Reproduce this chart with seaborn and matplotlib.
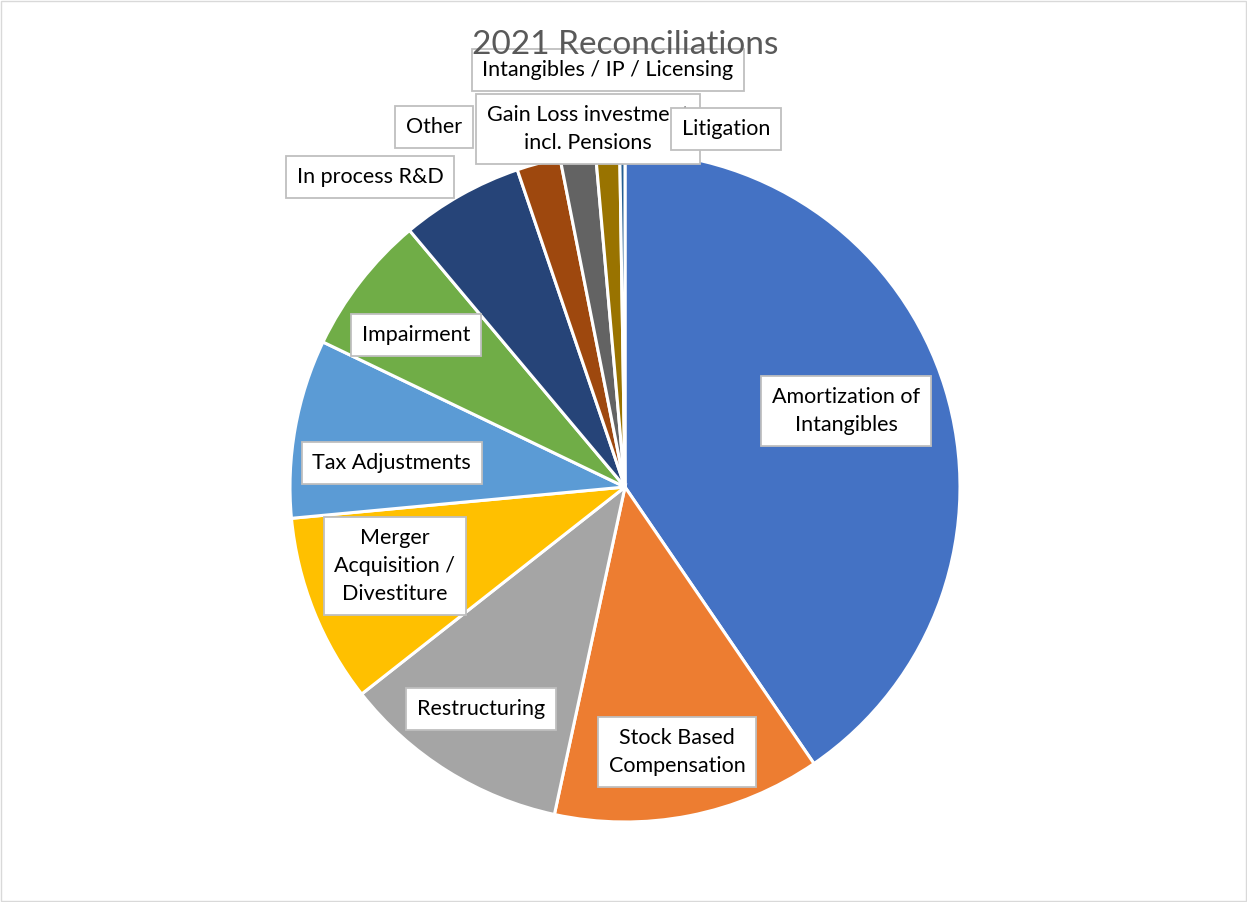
import matplotlib
matplotlib.use("Agg")
import matplotlib.pyplot as plt
import seaborn as sns
from matplotlib.patches import Rectangle

# ---- data ----
categories = [
    "Amortization of\nIntangibles",
    "Stock Based\nCompensation",
    "Restructuring",
    "Merger\nAcquisition /\nDivestiture",
    "Tax Adjustments",
    "Impairment",
    "In process R&D",
    "Other",
    "Gain Loss investment\nincl. Pensions",
    "Intangibles / IP / Licensing",
    "Litigation",
]
values = [40.4, 12.9, 11.0, 9.1, 8.6, 6.75, 5.9, 2.1, 1.7, 1.15, 0.25]
colors = ["#4472C4", "#ED7D31", "#A5A5A5", "#FFC000", "#5B9BD5", "#70AD47",
          "#264478", "#9E480E", "#636363", "#997300", "#255E91"]

# label centres (in units of pie radius)
label_pos = [(0.66, 0.227), (0.155, -0.791), (-0.43, -0.663), (-0.687, -0.236),
             (-0.696, 0.072), (-0.624, 0.454), (-0.761, 0.925), (-0.570, 1.075),
             (-0.110, 1.069), (-0.051, 1.245), (0.301, 1.069)]
label_z = [5, 5, 5, 5, 5, 5, 5, 5, 6, 5, 7]

sns.set_theme(style="white")
plt.rcParams["font.family"] = ["Lato", "DejaVu Sans"]

W, H = 1247, 902
fig = plt.figure(figsize=(W / 100, H / 100), dpi=100)
cx, cy, r = 625, 487, 335
ax = fig.add_axes([(cx - r) / W, (H - cy - r) / H, 2 * r / W, 2 * r / H])
ax.pie(values, colors=sns.color_palette(colors), startangle=90, counterclock=False,
       radius=1, wedgeprops=dict(edgecolor="white", linewidth=2.2))
ax.set_xlim(-1, 1)
ax.set_ylim(-1, 1)
ax.set_aspect("equal")
ax.axis("off")

for lab, (x, y), z in zip(categories, label_pos, label_z):
    ax.text(x, y, lab, ha="center", va="center", fontsize=15.5, color="#000000",
            linespacing=1.5, zorder=z,
            bbox=dict(boxstyle="square,pad=0.5", fc="white", ec="#BFBFBF", lw=1.3))

fig.text(cx / W, 1 - 45 / H, "2021 Reconciliations", ha="center", va="center",
         fontsize=24, color="#595959", zorder=10)

fig.patches.append(Rectangle((0.001, 0.001), 0.998, 0.998, transform=fig.transFigure,
                             fill=False, ec="#D9D9D9", lw=1))

fig.savefig("out.png", dpi=100, facecolor="white")
